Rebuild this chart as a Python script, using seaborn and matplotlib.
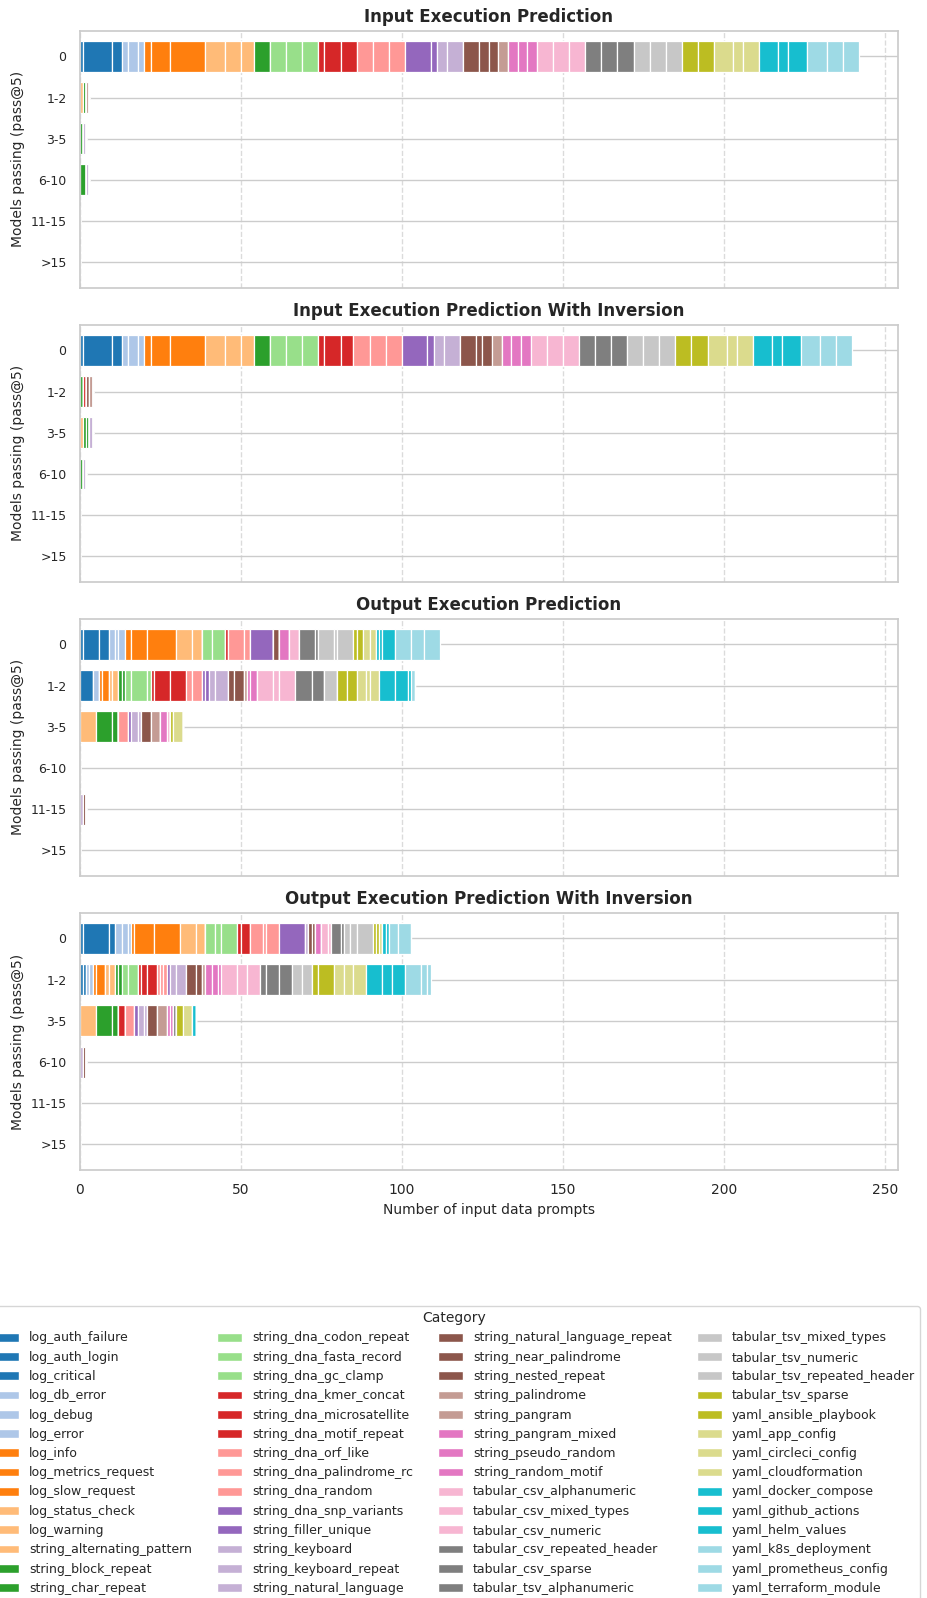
import numpy as np
import pandas as pd
import matplotlib
matplotlib.use("Agg")
import matplotlib.pyplot as plt
from matplotlib.patches import Patch
import seaborn as sns

CATEGORIES = [
    "log_auth_failure", "log_auth_login", "log_critical",
    "log_db_error", "log_debug", "log_error",
    "log_info", "log_metrics_request", "log_slow_request",
    "log_status_check", "log_warning", "string_alternating_pattern",
    "string_block_repeat", "string_char_repeat",
    "string_dna_codon_repeat", "string_dna_fasta_record", "string_dna_gc_clamp",
    "string_dna_kmer_concat", "string_dna_microsatellite", "string_dna_motif_repeat",
    "string_dna_orf_like", "string_dna_palindrome_rc", "string_dna_random",
    "string_dna_snp_variants", "string_filler_unique",
    "string_keyboard", "string_keyboard_repeat", "string_natural_language",
    "string_natural_language_repeat", "string_near_palindrome", "string_nested_repeat",
    "string_palindrome", "string_pangram",
    "string_pangram_mixed", "string_pseudo_random", "string_random_motif",
    "tabular_csv_alphanumeric", "tabular_csv_mixed_types", "tabular_csv_numeric",
    "tabular_csv_repeated_header", "tabular_csv_sparse", "tabular_tsv_alphanumeric",
    "tabular_tsv_mixed_types", "tabular_tsv_numeric", "tabular_tsv_repeated_header",
    "tabular_tsv_sparse", "yaml_ansible_playbook",
    "yaml_app_config", "yaml_circleci_config", "yaml_cloudformation",
    "yaml_docker_compose", "yaml_github_actions", "yaml_helm_values",
    "yaml_k8s_deployment", "yaml_prometheus_config", "yaml_terraform_module",
]

# tab20 colour slot used by each category (same order as CATEGORIES)
COLOR_INDEX = [0, 0, 0, 1, 1, 1, 2, 2, 2, 3, 3, 3, 4, 4, 5, 5, 5, 6, 6, 6,
               7, 7, 7, 8, 8, 9, 9, 9, 10, 10, 10, 11, 11, 12, 12, 12, 13, 13, 13,
               14, 14, 14, 15, 15, 15, 16, 16, 17, 17, 17, 18, 18, 18, 19, 19, 19]

BUCKETS = ["0", "1-2", "3-5", "6-10", "11-15", ">15"]

TITLES = [
    "Input Execution Prediction",
    "Input Execution Prediction With Inversion",
    "Output Execution Prediction",
    "Output Execution Prediction With Inversion",
]

# ---- Input Execution Prediction ----
IN_0 = [1, 9, 3, 2, 3, 2, 2, 6, 11, 6, 5, 4, 5, 0, 5, 5, 5, 2, 5, 5,
        5, 5, 5, 8, 2, 3, 5, 0, 5, 3, 3, 3, 0, 3, 3, 3, 5, 5, 5,
        5, 5, 5, 5, 5, 5, 5, 5, 6, 3, 5, 6, 3, 6, 6, 5, 5]
IN_1_2 = {"string_alternating_pattern": 1, "string_char_repeat": 1, "string_pangram": 1}
IN_3_5 = {"string_char_repeat": 1, "string_natural_language": 1}
IN_6_10 = {"string_char_repeat": 2, "string_natural_language": 1}

# ---- Input Execution Prediction With Inversion ----
INV_IN_0 = [1, 9, 3, 2, 3, 2, 2, 6, 11, 6, 5, 4, 5, 0, 5, 5, 5, 2, 5, 4,
            5, 5, 5, 8, 2, 3, 5, 0, 5, 2, 3, 3, 0, 3, 3, 3, 5, 5, 5,
            5, 5, 5, 5, 5, 5, 5, 5, 6, 3, 5, 6, 3, 6, 6, 5, 5]
INV_IN_1_2 = {"string_char_repeat": 1, "string_dna_motif_repeat": 1,
              "string_near_palindrome": 1, "string_pangram": 1}
INV_IN_3_5 = {"string_alternating_pattern": 1, "string_block_repeat": 1,
              "string_char_repeat": 1, "string_natural_language": 1}
INV_IN_6_10 = {"string_char_repeat": 1, "string_natural_language": 1}

# ---- Output Execution Prediction ----
OUT_0 = [1, 5, 3, 2, 1, 2, 2, 5, 9, 5, 3, 0, 0, 0, 3, 4, 0, 0, 1, 0,
         5, 2, 0, 7, 0, 0, 0, 0, 2, 0, 0, 0, 0, 3, 0, 0, 3, 0, 0,
         5, 1, 0, 5, 1, 5, 1, 2, 2, 2, 0, 1, 1, 4, 5, 4, 5]
OUT_1_2 = [0, 4, 0, 2, 0, 0, 1, 2, 0, 1, 2, 0, 1, 1, 2, 5, 1, 1, 5, 5,
           2, 3, 0, 1, 1, 2, 4, 0, 2, 3, 0, 1, 0, 1, 2, 0, 5, 2, 5,
           5, 4, 0, 4, 0, 0, 3, 3, 3, 1, 3, 5, 4, 1, 1, 0, 0]
OUT_3_5 = {"string_alternating_pattern": 5, "string_block_repeat": 5, "string_char_repeat": 2,
           "string_dna_random": 3, "string_filler_unique": 1, "string_keyboard": 2,
           "string_keyboard_repeat": 1, "string_near_palindrome": 3, "string_palindrome": 3,
           "string_random_motif": 2, "tabular_csv_alphanumeric": 1,
           "tabular_tsv_sparse": 1, "yaml_app_config": 3}
OUT_11_15 = {"string_natural_language": 1, "string_nested_repeat": 1}

# ---- Output Execution Prediction With Inversion ----
INV_OUT_0 = [1, 8, 2, 2, 2, 1, 1, 6, 8, 5, 3, 0, 0, 0, 3, 2, 5, 1, 3, 0,
             4, 1, 4, 8, 0, 1, 0, 0, 1, 1, 0, 0, 0, 2, 0, 0, 2, 1, 0,
             3, 1, 0, 2, 2, 5, 1, 1, 1, 0, 0, 1, 1, 0, 3, 4, 0]
INV_OUT_1_2 = [1, 1, 0, 1, 1, 0, 1, 3, 0, 1, 2, 0, 1, 1, 2, 3, 0, 1, 2, 3,
               1, 1, 1, 1, 0, 2, 3, 0, 3, 2, 0, 1, 0, 2, 2, 1, 5, 3, 4,
               2, 4, 4, 3, 3, 0, 2, 5, 3, 3, 4, 5, 3, 4, 5, 2, 1]
INV_OUT_3_5 = {"string_alternating_pattern": 5, "string_block_repeat": 5, "string_char_repeat": 2,
               "string_dna_microsatellite": 2, "string_dna_random": 3, "string_filler_unique": 1,
               "string_keyboard": 2, "string_keyboard_repeat": 1, "string_near_palindrome": 3,
               "string_palindrome": 3, "string_pangram_mixed": 1, "string_pseudo_random": 1,
               "tabular_csv_repeated_header": 1, "yaml_ansible_playbook": 2,
               "yaml_app_config": 3, "yaml_docker_compose": 1}
INV_OUT_6_10 = {"string_natural_language": 1, "string_nested_repeat": 1}

PANELS = [
    {"0": IN_0, "1-2": IN_1_2, "3-5": IN_3_5, "6-10": IN_6_10},
    {"0": INV_IN_0, "1-2": INV_IN_1_2, "3-5": INV_IN_3_5, "6-10": INV_IN_6_10},
    {"0": OUT_0, "1-2": OUT_1_2, "3-5": OUT_3_5, "11-15": OUT_11_15},
    {"0": INV_OUT_0, "1-2": INV_OUT_1_2, "3-5": INV_OUT_3_5, "6-10": INV_OUT_6_10},
]


def panel_frame(rows):
    df = pd.DataFrame(0, index=BUCKETS, columns=CATEGORIES, dtype=float)
    for bucket, vals in rows.items():
        if isinstance(vals, dict):
            for cat, v in vals.items():
                df.loc[bucket, cat] = v
        else:
            df.loc[bucket, :] = vals
    return df


sns.set_theme(style="whitegrid")
plt.rcParams["font.family"] = ["DejaVu Sans"]

pal = sns.color_palette("tab20", 20)
colors = [pal[i] for i in COLOR_INDEX]

fig, axes = plt.subplots(4, 1, figsize=(9.27, 15.98), dpi=100, sharex=True)
fig.subplots_adjust(left=0.0860, right=0.9686, top=0.98085, bottom=0.26771, hspace=0.142)

ypos = np.arange(len(BUCKETS))
for ax, title, rows in zip(axes, TITLES, PANELS):
    df = panel_frame(rows)
    left = np.zeros(len(BUCKETS))
    for j, cat in enumerate(CATEGORIES):
        w = df[cat].values
        ax.barh(ypos, w, left=left, height=0.75, color=colors[j],
                edgecolor="white", linewidth=0.9, label=cat)
        left = left + w
    ax.set_ylim(len(BUCKETS) - 1 + 0.625, -0.625)
    ax.set_yticks(ypos)
    ax.set_yticklabels(BUCKETS, fontsize=9)
    ax.set_ylabel("Models passing (pass@5)", fontsize=10)
    ax.set_title(title, fontsize=12, fontweight="bold")
    ax.grid(axis="x", linestyle="--", alpha=0.7)
    ax.grid(axis="y", linestyle="-")
    ax.tick_params(axis="x", labelsize=10)

axes[-1].set_xlabel("Number of input data prompts", fontsize=10)

handles = [Patch(facecolor=colors[j], edgecolor="white") for j in range(len(CATEGORIES))]
fig.legend(handles, CATEGORIES, loc="upper center",
           bbox_to_anchor=(454.6 / 927, 1 - 1300 / 1598), ncol=4,
           title="Category", fontsize=9, title_fontsize=10, frameon=True)

fig.savefig("out.png", dpi=100)
